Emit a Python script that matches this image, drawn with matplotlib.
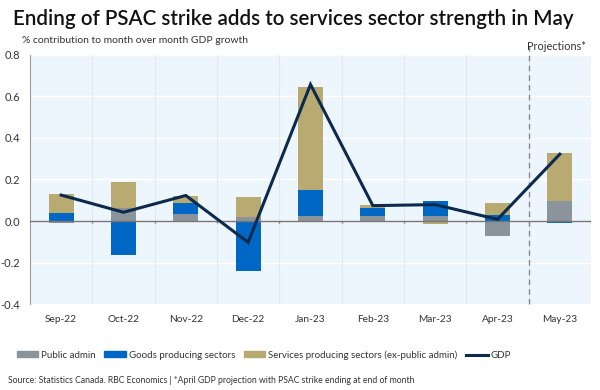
import numpy as np
import matplotlib
matplotlib.use("Agg")
import matplotlib.pyplot as plt
from matplotlib.patches import Patch
from matplotlib.lines import Line2D

plt.rcParams['font.family'] = ['Lato', 'DejaVu Sans']

months = ["Sep-22", "Oct-22", "Nov-22", "Dec-22", "Jan-23", "Feb-23", "Mar-23", "Apr-23", "May-23"]
public_admin = [-0.011, 0.064, 0.035, 0.019, 0.024, 0.024, 0.024, -0.074, 0.096]
goods = [0.037, -0.164, 0.050, -0.239, 0.127, 0.040, 0.072, 0.029, -0.008]
services = [0.091, 0.125, 0.035, 0.095, 0.495, 0.015, -0.014, 0.056, 0.234]
gdp = [0.125, 0.042, 0.123, -0.103, 0.658, 0.074, 0.079, 0.008, 0.322]

c_pub = "#8b939b"
c_goods = "#0067c5"
c_serv = "#b8aa70"
c_gdp = "#0c2a4d"

fig = plt.figure(figsize=(6, 3.9), dpi=100)
ax = fig.add_axes([0.05, 0.2205, 0.935, 0.6385])
ax.set_facecolor("#eef6fd")

x = np.arange(len(months))
w = 0.4

# stack positives and negatives separately
pos_base = np.zeros(len(months))
neg_base = np.zeros(len(months))
for vals, col in [(public_admin, c_pub), (goods, c_goods), (services, c_serv)]:
    v = np.array(vals)
    bottoms = np.where(v >= 0, pos_base, neg_base)
    ax.bar(x, v, w, bottom=bottoms, color=col, zorder=3)
    pos_base = pos_base + np.where(v >= 0, v, 0)
    neg_base = neg_base + np.where(v < 0, v, 0)

ax.plot(x, gdp, color=c_gdp, lw=2.2, zorder=5, solid_joinstyle="miter")

ax.set_xlim(-0.5, len(months) - 0.5)
ax.set_ylim(-0.4, 0.8)
ax.set_yticks(np.arange(-0.4, 0.81, 0.2))
ax.set_yticklabels(["-0.4", "-0.2", "0.0", "0.2", "0.4", "0.6", "0.8"])
ax.set_xticks(x)
ax.set_xticklabels(months)

# grid
for yy in np.arange(-0.2, 0.81, 0.2):
    ax.axhline(yy, color="white", lw=1, zorder=1)
for b in np.arange(0.5, len(months) - 1, 1):
    ax.axvline(b, color="#e2e8ee", lw=0.8, zorder=1)

ax.axhline(0, color="#777777", lw=1, zorder=4)
ax.vlines(np.arange(0.5, len(months), 1), -0.012, 0, color="#777777", lw=1, zorder=4)
ax.axvline(7.5, color="#8a8a8a", lw=1, ls=(0, (4, 3)), zorder=4, clip_on=False, ymax=1.04)

for s in ["top", "right", "bottom"]:
    ax.spines[s].set_visible(False)
ax.spines["left"].set_color("#9a9a9a")
ax.tick_params(axis="x", length=0, pad=8, labelsize=7.3, colors="#333333")
ax.tick_params(axis="y", length=0, pad=7, labelsize=8, colors="#333333")

fig.text(0.022, 0.952, "Ending of PSAC strike adds to services sector strength in May",
         fontsize=14.8, color="#111111", va="center", fontweight="semibold")
fig.text(0.037, 0.895, "% contribution to month over month GDP growth",
         fontsize=7.5, color="#333333", va="center")
fig.text(0.878, 0.88, "Projections*", fontsize=7.8, color="#333333", va="center")

handles = [Patch(color=c_pub), Patch(color=c_goods), Patch(color=c_serv),
           Line2D([0], [0], color=c_gdp, lw=2.2)]
labels = ["Public admin", "Goods producing sectors",
          "Services producing sectors (ex-public admin)", "GDP"]
fig.legend(handles, labels, loc="center left", bbox_to_anchor=(0.028, 0.09), ncol=4,
           frameon=False, fontsize=7, handlelength=2.2, handleheight=0.5,
           handletextpad=0.3, columnspacing=0.9, labelcolor="#333333",
           borderaxespad=0, borderpad=0)

fig.text(0.013, 0.025,
         "Source: Statistics Canada. RBC Economics | *April GDP projection with PSAC strike ending at end of month",
         fontsize=6.2, color="#333333", va="center")

fig.savefig("out.png", dpi=100)
